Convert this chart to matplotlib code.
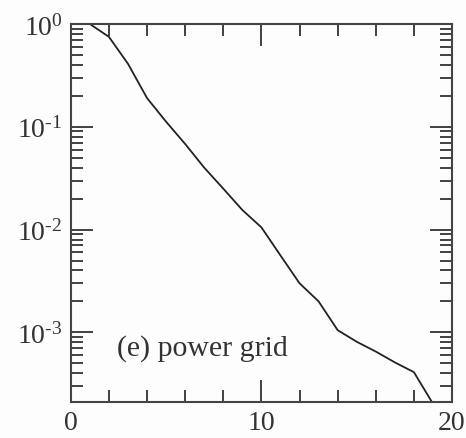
import numpy as np
import matplotlib
matplotlib.use("Agg")
import matplotlib.pyplot as plt
from matplotlib.ticker import LogLocator, FuncFormatter, MultipleLocator, NullFormatter

# cumulative degree distribution
k = [1, 2, 3, 4, 5, 6, 7, 8, 9, 10, 11, 12, 13, 14, 15, 16, 17, 18, 19]
pk = [1.0, 0.75, 0.41, 0.19, 0.112, 0.068, 0.040, 0.025, 0.0155, 0.0105,
      0.0056, 0.0030, 0.0020, 0.00105, 0.00081, 0.00065, 0.00051, 0.00041, 0.000202]

plt.rcParams.update({
    'font.family': 'Liberation Serif',
    'mathtext.fontset': 'custom',
    'mathtext.rm': 'Liberation Serif',
    'mathtext.default': 'regular',
    'font.size': 20,
})

def log_label(v, pos):
    e = int(round(np.log10(v)))
    if e < 0:
        return r'$10^{\text{-}%d}$' % (-e)
    return r'$10^{%d}$' % e

fig = plt.figure(figsize=(4.66, 4.39), dpi=100, facecolor='#fdfdfd')
ax = fig.add_axes([0.152, 0.082, 0.818, 0.861], facecolor='#fdfdfd')

ax.plot(k, pk, color='#222222', lw=1.3)

ax.set_yscale('log')
ax.set_xlim(0, 20)
ax.set_ylim(2.1e-4, 1.0)

ax.xaxis.set_major_locator(MultipleLocator(10))
ax.xaxis.set_minor_locator(MultipleLocator(2))
ax.yaxis.set_major_locator(LogLocator(base=10, numticks=10))
ax.yaxis.set_major_formatter(FuncFormatter(log_label))
ax.yaxis.set_minor_locator(LogLocator(base=10, subs=np.arange(2, 10), numticks=10))
ax.yaxis.set_minor_formatter(NullFormatter())

ax.tick_params(which='both', direction='in', top=True, right=True,
               color='#333333', width=1.3, labelsize=20, labelcolor='#333333')
ax.tick_params(which='major', length=16, pad=6)
ax.tick_params(which='minor', length=8.5)

for s in ax.spines.values():
    s.set_color('#444444')
    s.set_linewidth(1.5)

ax.text(0.12, 0.145, '(e) power grid', transform=ax.transAxes,
        fontsize=21.5, color='#333333', ha='left', va='center')

fig.savefig('out.png', dpi=100, facecolor=fig.get_facecolor())
